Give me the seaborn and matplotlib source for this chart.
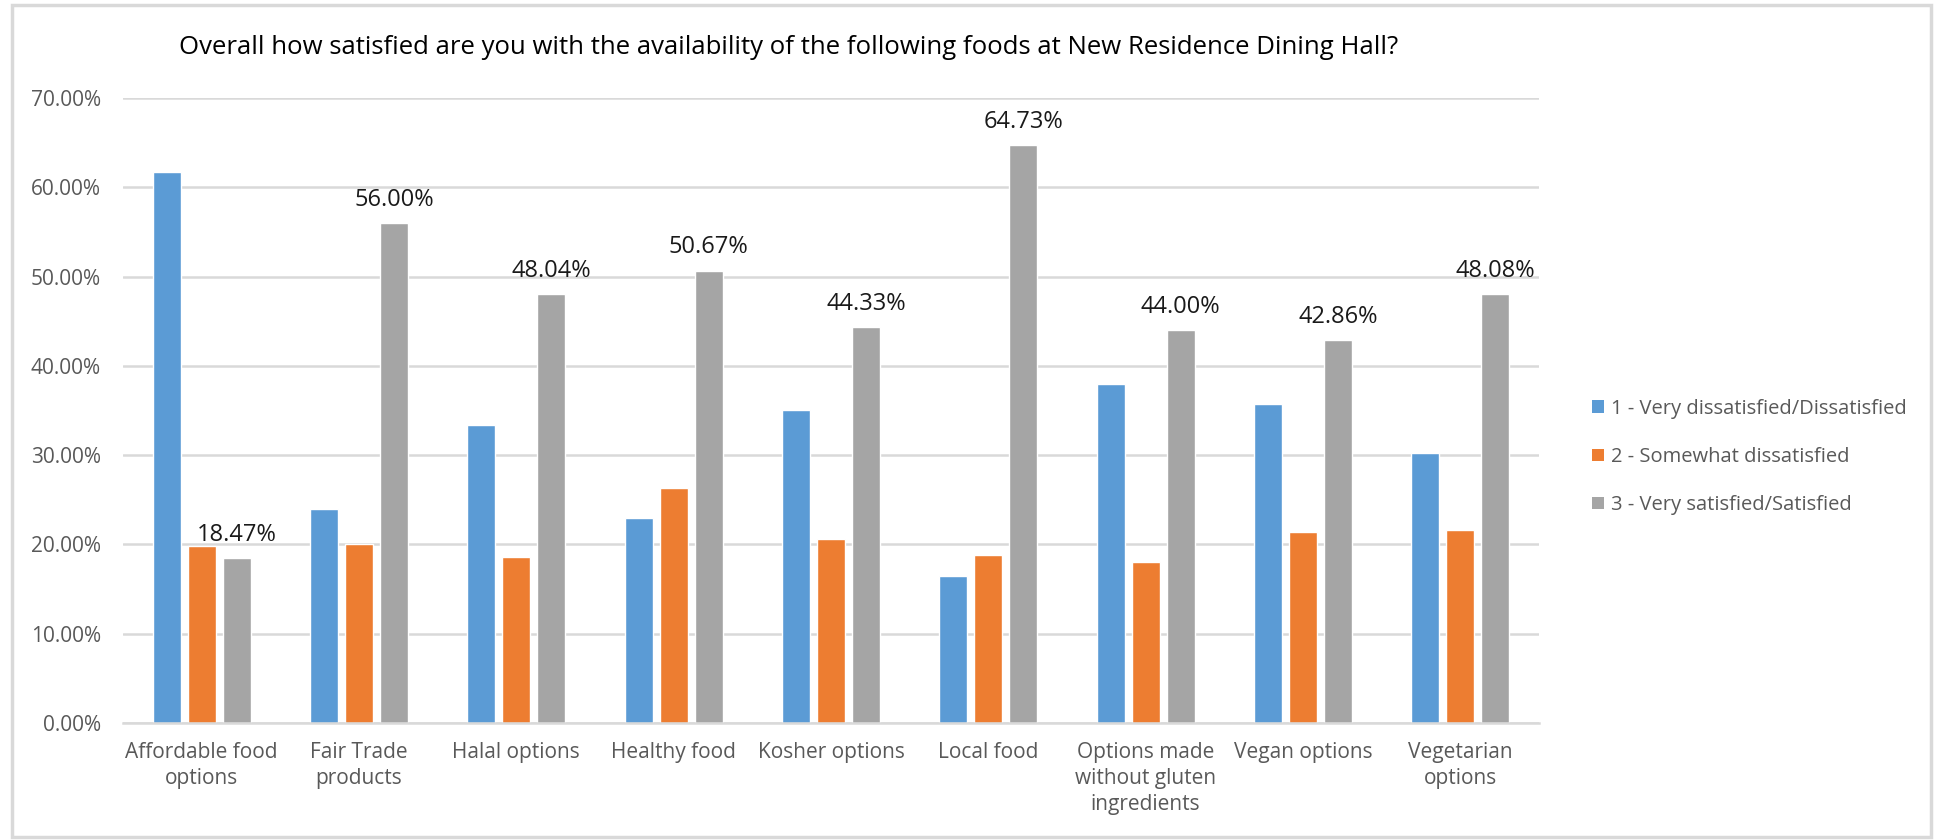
import numpy as np
import pandas as pd
import seaborn as sns
import matplotlib.pyplot as plt
from matplotlib.patches import Rectangle, Patch


items = ["Affordable food\noptions", "Fair Trade\nproducts", "Halal options",
         "Healthy food", "Kosher options", "Local food",
         "Options made\nwithout gluten\ningredients", "Vegan options",
         "Vegetarian\noptions"]
ratings = ["1 - Very dissatisfied/Dissatisfied", "2 - Somewhat dissatisfied",
           "3 - Very satisfied/Satisfied"]
dissatisfied = [61.70, 24.00, 33.33, 23.00, 35.05, 16.47, 38.00, 35.71, 30.29]
somewhat = [19.83, 20.00, 18.63, 26.33, 20.62, 18.80, 18.00, 21.43, 21.63]
satisfied = [18.47, 56.00, 48.04, 50.67, 44.33, 64.73, 44.00, 42.86, 48.08]
colors = ["#5B9BD5", "#ED7D31", "#A5A5A5"]

df = pd.DataFrame({
    "item": items * 3,
    "rating": np.repeat(ratings, len(items)),
    "pct": np.array(dissatisfied + somewhat + satisfied) / 100,
})

sns.set_style("white")
plt.rcParams["font.family"] = ["Open Sans", "DejaVu Sans"]

fig = plt.figure(figsize=(19.34, 8.4), dpi=100)
ax = fig.add_axes([123 / 1934, 1 - 723 / 840, (1539 - 123) / 1934, (723 - 98) / 840])

# outer chart border
fig.patches.append(Rectangle((12 / 1934, 3 / 840), 1919 / 1934, 832 / 840,
                             transform=fig.transFigure, fill=False,
                             edgecolor="#D9D9D9", linewidth=2.5))

sns.barplot(data=df, x="item", y="pct", hue="rating", palette=colors,
            width=0.667, gap=0.2, saturation=1, ax=ax, legend=False)

ax.set_ylim(0, 0.70)
ax.set_yticks(np.arange(0, 0.71, 0.10))
ax.set_yticklabels([f"{t * 100:.2f}%" for t in np.arange(0, 0.71, 0.10)])
ax.yaxis.grid(True, color="#D9D9D9", linewidth=1.8)
ax.set_axisbelow(True)
for s in ["top", "right", "left"]:
    ax.spines[s].set_visible(False)
ax.spines["bottom"].set_color("#D9D9D9")
ax.spines["bottom"].set_linewidth(1.8)
ax.set_xlabel("")
ax.set_ylabel("")
ax.tick_params(axis="y", length=0, pad=16, labelsize=15, labelcolor="#595959")
ax.tick_params(axis="x", length=0, pad=14, labelsize=15, labelcolor="#595959")
for lab in ax.get_xticklabels():
    lab.set_linespacing(1.3)

# labels on the satisfied series only
ax.bar_label(ax.containers[2], labels=[f"{v:.2f}%" for v in satisfied],
             padding=8, fontsize=17, color="#1A1A1A")

fig.text(789 / 1934, 1 - 47 / 840,
         "Overall how satisfied are you with the availability of the following foods at New Residence Dining Hall?",
         ha="center", va="center", fontsize=18.5, color="#000000")

handles = [Patch(facecolor=c, edgecolor="none") for c in colors]
fig.legend(handles, ratings, loc="center left",
           bbox_to_anchor=(1574 / 1934, 1 - 457 / 840), frameon=False,
           fontsize=14.5, labelcolor="#595959", handlelength=0.6,
           handleheight=0.6, handletextpad=0.35, labelspacing=1.4)

fig.savefig("out.png", dpi=100)
